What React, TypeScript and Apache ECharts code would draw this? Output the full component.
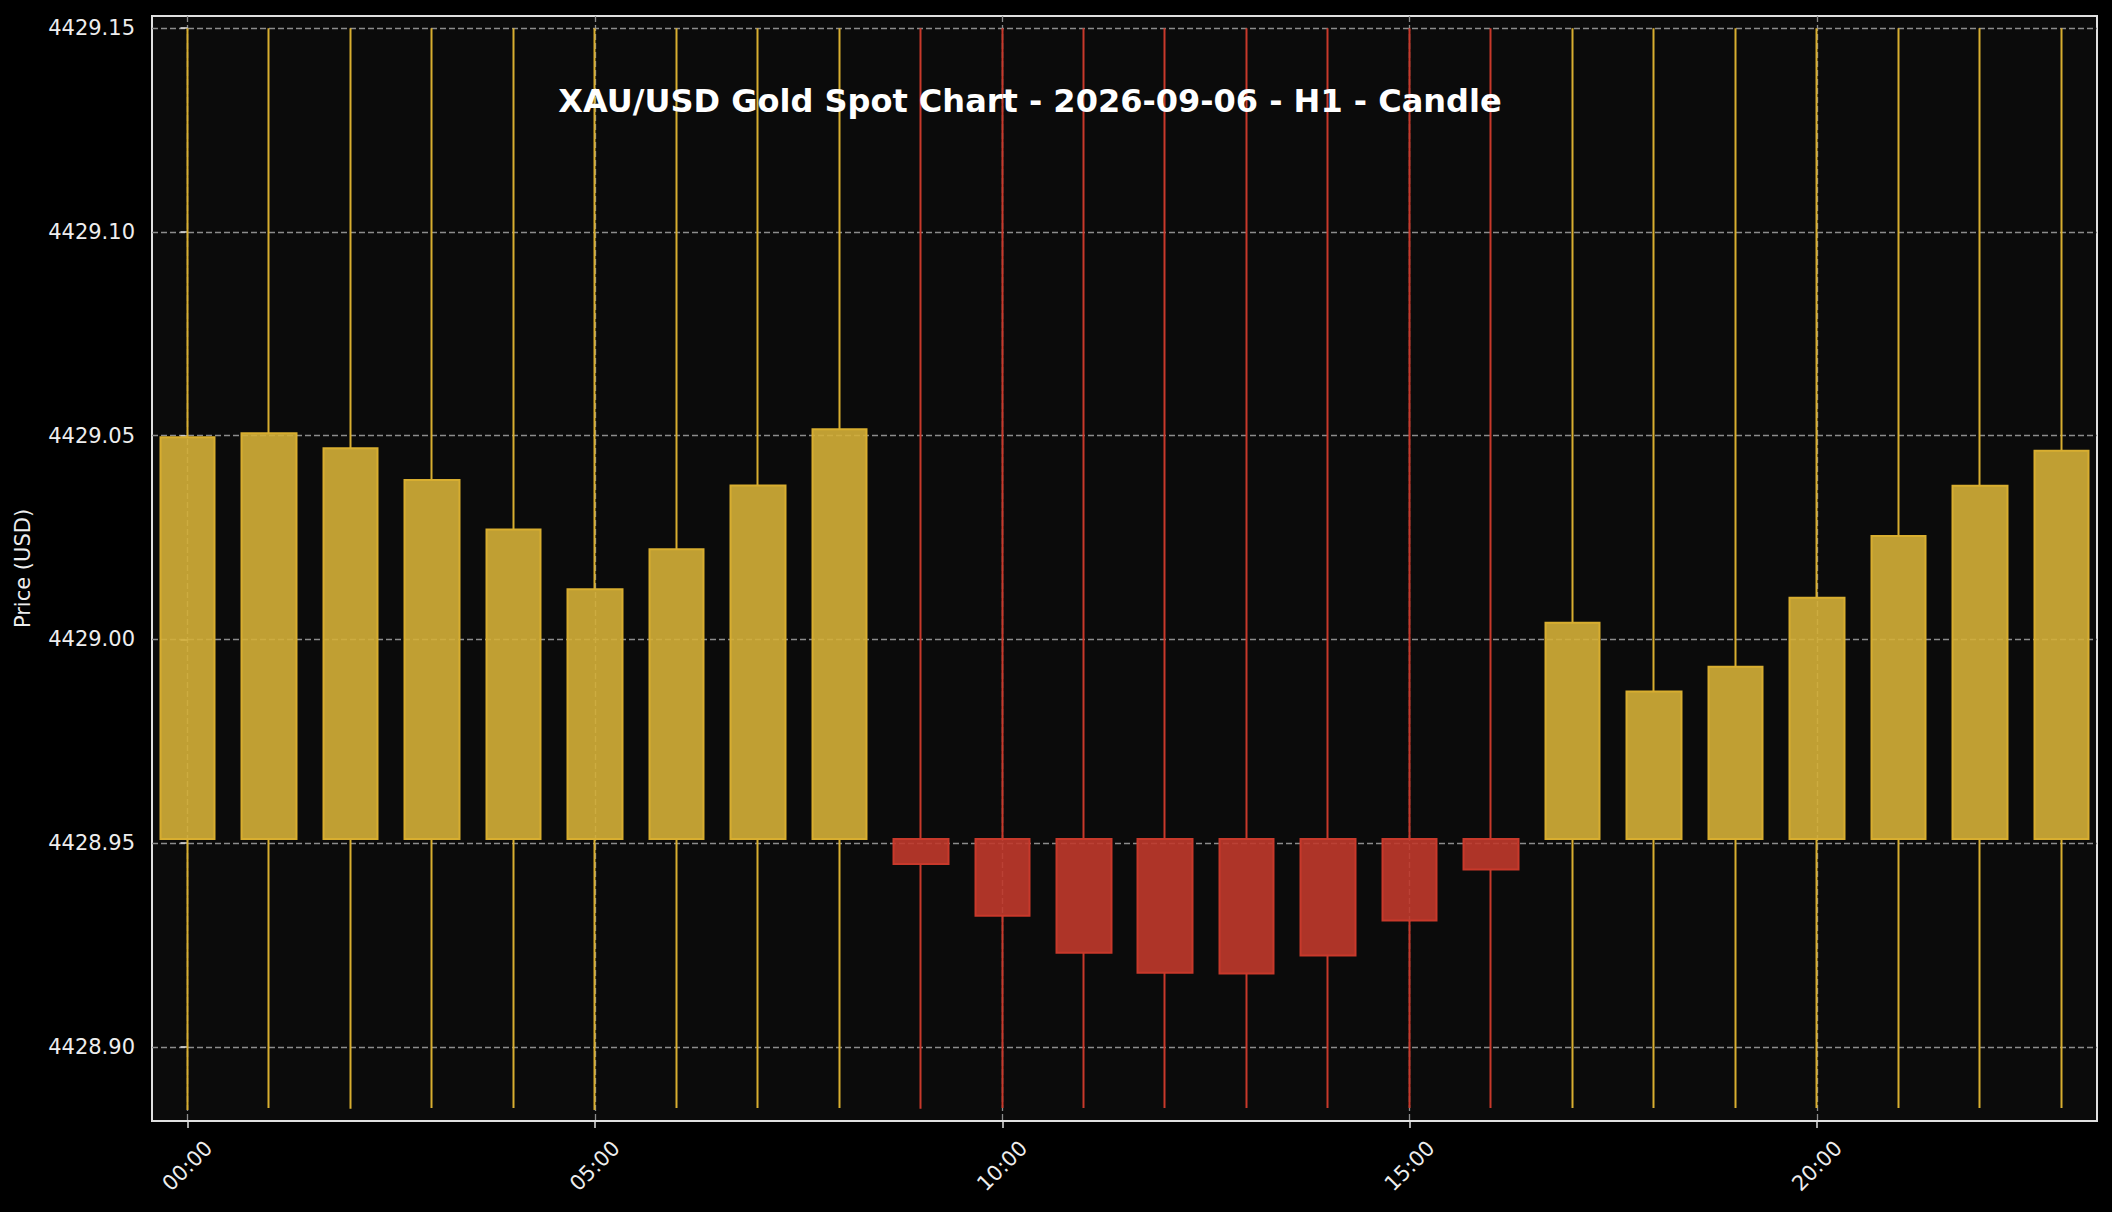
import { useEffect, useRef } from 'react'
import * as echarts from 'echarts'

// hourly candles, H1
const hours = [
  '00:00', '01:00', '02:00', '03:00', '04:00', '05:00', '06:00', '07:00',
  '08:00', '09:00', '10:00', '11:00', '12:00', '13:00', '14:00', '15:00',
  '16:00', '17:00', '18:00', '19:00', '20:00', '21:00', '22:00', '23:00'
]
const opens = [
  4428.951, 4428.951, 4428.951, 4428.951, 4428.951, 4428.951, 4428.951, 4428.951,
  4428.951, 4428.951, 4428.951, 4428.951, 4428.951, 4428.951, 4428.951, 4428.951,
  4428.951, 4428.951, 4428.951, 4428.951, 4428.951, 4428.951, 4428.951, 4428.951
]
const closes = [
  4429.0496, 4429.0506, 4429.0469, 4429.0391, 4429.027, 4429.0123, 4429.0221, 4429.0378,
  4429.0516, 4428.9449, 4428.9322, 4428.9231, 4428.9182, 4428.918, 4428.9224, 4428.931,
  4428.9435, 4429.0041, 4428.9872, 4428.9933, 4429.0102, 4429.0254, 4429.0377, 4429.0463
]
const highs = [
  4429.15, 4429.15, 4429.15, 4429.15, 4429.15, 4429.15, 4429.15, 4429.15,
  4429.15, 4429.15, 4429.15, 4429.15, 4429.15, 4429.15, 4429.15, 4429.15,
  4429.15, 4429.15, 4429.15, 4429.15, 4429.15, 4429.15, 4429.15, 4429.15
]
const lows = [
  4428.8845, 4428.885, 4428.8848, 4428.885, 4428.885, 4428.8845, 4428.885, 4428.885,
  4428.885, 4428.8848, 4428.885, 4428.885, 4428.885, 4428.885, 4428.885, 4428.885,
  4428.885, 4428.885, 4428.885, 4428.885, 4428.885, 4428.885, 4428.885, 4428.885
]
const hourTicks = [0, 5, 10, 15, 20]
const priceTicks = [4428.9, 4428.95, 4429.0, 4429.05, 4429.1, 4429.15]

const FONT = 'DejaVu Sans'

export default function App() {
  const chartRef = useRef<HTMLDivElement>(null)

  useEffect(() => {
    if (!chartRef.current) return
    const chart = echarts.init(chartRef.current, null, { renderer: 'svg' })

    const candles = hours.map((_, i) => [i, opens[i], closes[i], lows[i], highs[i]])

    chart.setOption({
      animation: false,
      backgroundColor: '#000000',
      grid: {
        left: 152,
        right: 15,
        top: 16,
        bottom: 91,
        show: true,
        backgroundColor: '#0b0b0b',
        borderColor: '#e0e0e0',
        borderWidth: 2
      },
      graphic: [
        {
          type: 'text',
          x: 1030,
          y: 101,
          z: 100,
          style: {
            text: 'XAU/USD Gold Spot Chart - 2026-09-06 - H1 - Candle',
            fill: '#ffffff',
            font: `bold 32px "${FONT}"`,
            align: 'center',
            verticalAlign: 'middle'
          }
        }
      ],
      xAxis: {
        type: 'value',
        min: -0.435,
        max: 23.435,
        axisLine: { show: false },
        axisTick: {
          show: true,
          customValues: hourTicks,
          length: 7,
          lineStyle: { color: '#e0e0e0', width: 1.5 }
        },
        axisLabel: {
          customValues: hourTicks,
          formatter: (v: number) => hours[v],
          rotate: 45,
          align: 'center',
          verticalAlign: 'middle',
          margin: 45,
          color: '#eeeeee',
          fontSize: 21,
          fontFamily: FONT
        },
        splitLine: {
          show: true,
          lineStyle: { color: '#8c8c8c', width: 1.3, type: [6, 3] }
        }
      },
      yAxis: {
        type: 'value',
        scale: true,
        min: 4428.8818,
        max: 4429.153,
        name: 'Price (USD)',
        nameLocation: 'middle',
        nameGap: 119,
        nameTextStyle: { color: '#eeeeee', fontSize: 21, fontFamily: FONT },
        axisLine: { show: false },
        axisTick: {
          show: true,
          customValues: priceTicks,
          length: 7,
          lineStyle: { color: '#e0e0e0', width: 1.5 }
        },
        axisLabel: {
          customValues: priceTicks,
          formatter: (v: number) => v.toFixed(2),
          margin: 17,
          color: '#eeeeee',
          fontSize: 21,
          fontFamily: FONT
        },
        splitLine: {
          show: true,
          lineStyle: { color: '#8c8c8c', width: 1.3, type: [6, 3] }
        }
      },
      series: [
        {
          type: 'candlestick',
          data: candles,
          barWidth: 55,
          itemStyle: {
            color: 'rgba(212,175,55,0.9)',
            color0: 'rgba(192,57,43,0.9)',
            borderColor: '#d8ae30',
            borderColor0: '#c8392b',
            borderWidth: 2
          }
        }
      ]
    })

    return () => chart.dispose()
  }, [])

  return (
    <div
      ref={chartRef}
      style={{ position: 'absolute', left: 0, top: 0, width: 2112, height: 1212 }}
    />
  )
}
